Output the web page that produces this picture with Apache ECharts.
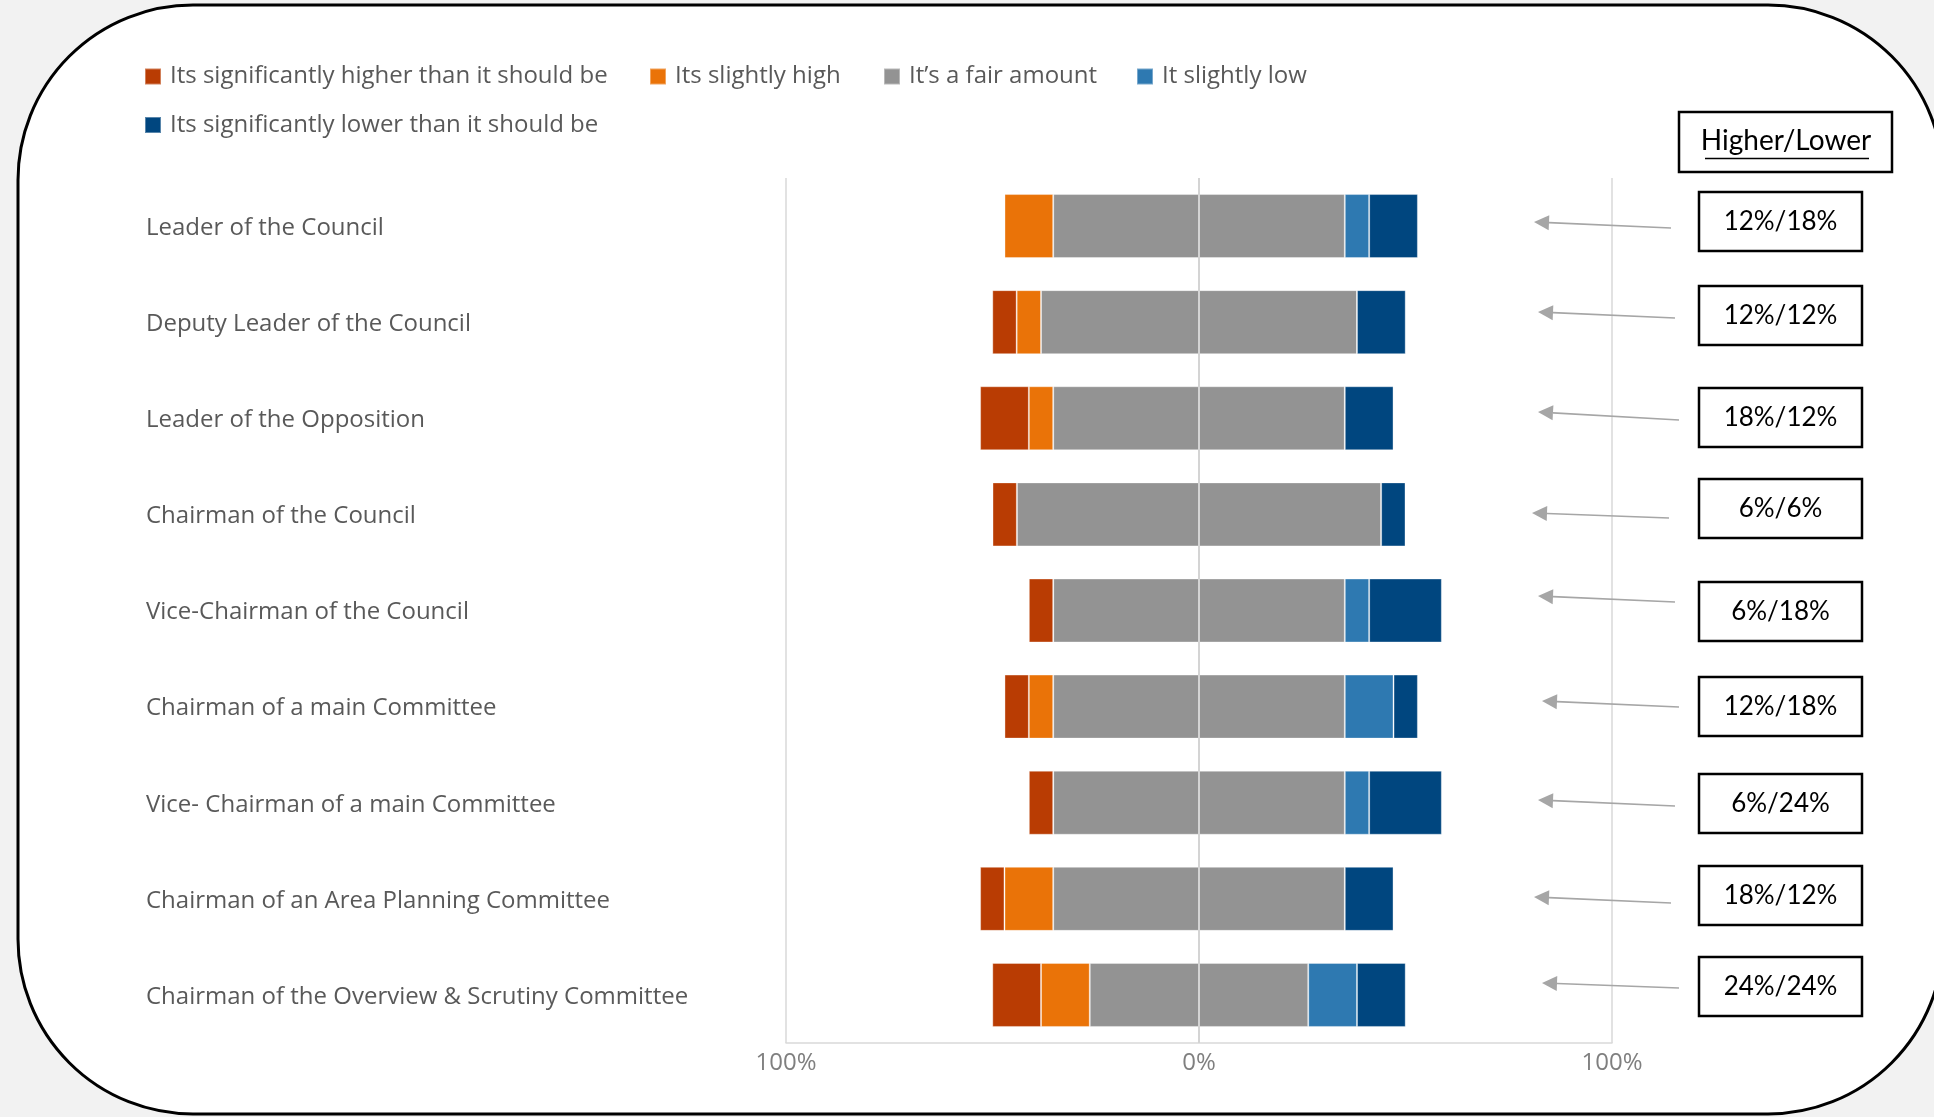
<!DOCTYPE html>
<html><head><meta charset="utf-8">
<script src="https://cdn.jsdelivr.net/npm/echarts@6/dist/echarts.min.js"></script>
<style>html,body{margin:0;padding:0;background:#f2f2f2;overflow:hidden}#c{width:1934px;height:1117px}</style>
</head><body><div id="c"></div>
<script>
// ---------- data ----------
const categories = [
  "Leader of the Council",
  "Deputy Leader of the Council",
  "Leader of the Opposition",
  "Chairman of the Council",
  "Vice-Chairman of the Council",
  "Chairman of a main Committee",
  "Vice- Chairman of a main Committee",
  "Chairman of an Area Planning Committee",
  "Chairman of the Overview & Scrutiny Committee"
];
const seriesNames = [
  "Its significantly higher than it should be",
  "Its slightly high",
  "It\u2019s a fair amount",
  "It slightly low",
  "Its significantly lower than it should be"
];
// percentages
const sigHigh    = [0,    5.9,  11.8, 5.9,  5.9,  5.9,  5.9,  5.9,  11.8];
const slightHigh = [11.8, 5.9,  5.9,  0,    0,    5.9,  0,    11.8, 11.8];
const fairAmount = [70.6, 76.5, 70.6, 88.2, 70.6, 70.6, 70.6, 70.6, 52.9];
const slightLow  = [5.9,  0,    0,    0,    5.9,  11.8, 5.9,  0,    11.8];
const sigLow     = [11.8, 11.8, 11.8, 5.9,  17.6, 5.9,  17.6, 11.8, 11.8];
const axisTicks  = [-100, 0, 100];
const boxHeader  = "Higher/Lower";
const boxLabels  = ["12%/18%","12%/12%","18%/12%","6%/6%","6%/18%","12%/18%","6%/24%","18%/12%","24%/24%"];

// ---------- styles / layout ----------
const colors = ["#B93C03", "#EA7308", "#939393", "#2E79B1", "#00467F"];
const FONT = "'Open Sans', 'Noto Sans', sans-serif";
const BOXFONT = "Lato, 'Open Sans', sans-serif";
const boxTops = [192, 286, 388, 479, 582, 677, 774, 866, 957];
const arrows = [
  [1534,222,1671,228],[1538,312,1675,318],[1538,412,1679,420],
  [1532,513,1669,518],[1538,596,1675,602],[1542,701,1679,707],
  [1538,800,1675,806],[1534,897,1671,903],[1542,983,1679,988]
];
const legendPos = [[144,63.5],[649,63.5],[883,63.5],[1136,63.5],[144,112]];

const neg = a => a.map(v => v === 0 ? 0 : -v);
const half = a => a.map(v => v / 2);

const barBase = {type:'bar', stack:'all', barWidth:64, silent:true,
  itemStyle:{borderColor:'rgba(255,255,255,0.35)', borderWidth:1}};

const series = [
  Object.assign({}, barBase, {name:seriesNames[2], data:neg(half(fairAmount)), itemStyle:Object.assign({}, barBase.itemStyle,{color:colors[2]})}),
  Object.assign({}, barBase, {name:seriesNames[1], data:neg(slightHigh), itemStyle:Object.assign({}, barBase.itemStyle,{color:colors[1]})}),
  Object.assign({}, barBase, {name:seriesNames[0], data:neg(sigHigh), itemStyle:Object.assign({}, barBase.itemStyle,{color:colors[0]})}),
  Object.assign({}, barBase, {name:seriesNames[2], data:half(fairAmount), itemStyle:Object.assign({}, barBase.itemStyle,{color:colors[2]})}),
  Object.assign({}, barBase, {name:seriesNames[3], data:slightLow, itemStyle:Object.assign({}, barBase.itemStyle,{color:colors[3]})}),
  Object.assign({}, barBase, {name:seriesNames[4], data:sigLow, itemStyle:Object.assign({}, barBase.itemStyle,{color:colors[4]}),
    markLine:{silent:true, symbol:'none', label:{show:false}, z:10,
      lineStyle:{color:'#d4d4d4', width:2, type:'solid'}, data:[{xAxis:0}]}})
];

const legends = [0,1,2,3,4].map(i => ({
  left: legendPos[i][0], top: legendPos[i][1], padding:0,
  icon:'rect', itemWidth:16, itemHeight:16, selectedMode:false,
  data:[{name:seriesNames[i], itemStyle:{color:colors[i]}}],
  textStyle:{fontFamily:FONT, fontSize:24, color:'#595959', padding:[0,0,0,4], lineHeight:26}
}));

const graphics = [];
graphics.push({type:'rect', z:-100, silent:true,
  shape:{x:18, y:5, width:1925, height:1109, r:175},
  style:{fill:'#ffffff', stroke:'#000000', lineWidth:3}});
graphics.push({type:'rect', z:50, silent:true, shape:{x:1679, y:112, width:213, height:60},
  style:{fill:'#fff', stroke:'#000', lineWidth:2.5}});
graphics.push({type:'text', z:51, silent:true, x:1786, y:141,
  style:{text:boxHeader, font:'28px ' + BOXFONT, fill:'#000', align:'center', verticalAlign:'middle'}});
graphics.push({type:'line', z:51, silent:true, shape:{x1:1705, y1:158.5, x2:1869, y2:158.5},
  style:{stroke:'#000', lineWidth:1.5}});
boxLabels.forEach((t, i) => {
  graphics.push({type:'rect', z:50, silent:true, shape:{x:1699, y:boxTops[i], width:163, height:59},
    style:{fill:'#fff', stroke:'#000', lineWidth:2.5}});
  graphics.push({type:'text', z:51, silent:true, x:1780.5, y:boxTops[i] + 29.5,
    style:{text:t, font:'26px ' + BOXFONT, fill:'#000', align:'center', verticalAlign:'middle'}});
  const a = arrows[i];
  const dx = a[2]-a[0], dy = a[3]-a[1], L = Math.hypot(dx, dy), ux = dx/L, uy = dy/L;
  const bx = a[0] + ux*15, by = a[1] + uy*15;
  graphics.push({type:'line', z:49, silent:true, shape:{x1:bx, y1:by, x2:a[2], y2:a[3]},
    style:{stroke:'#a6a6a6', lineWidth:1.6}});
  graphics.push({type:'polygon', z:49, silent:true,
    shape:{points:[[a[0],a[1]],[bx - uy*7.5, by + ux*7.5],[bx + uy*7.5, by - ux*7.5]]},
    style:{fill:'#a6a6a6'}});
});

const chart = echarts.init(document.getElementById('c'), null, {renderer:'canvas', width:1934, height:1117});
chart.setOption({
  backgroundColor:'#f2f2f2',
  animation:false,
  legend: legends,
  grid:{left:786, right:322, top:178, bottom:74, containLabel:false},
  xAxis:{type:'value', min:axisTicks[0], max:axisTicks[axisTicks.length-1], interval:axisTicks[1]-axisTicks[0],
    axisLine:{show:true, lineStyle:{color:'#d9d9d9', width:1.5}},
    axisTick:{show:false},
    splitLine:{show:true, lineStyle:{color:'#d9d9d9', width:1.5}},
    axisLabel:{formatter:v => Math.abs(v) + '%', fontFamily:FONT, fontSize:24, color:'#7f7f7f', margin:8}},
  yAxis:{type:'category', inverse:true, data:categories,
    axisLine:{show:false}, axisTick:{show:false}, splitLine:{show:false},
    axisLabel:{align:'left', margin:640, fontFamily:FONT, fontSize:24, color:'#595959',
      formatter: v => '{a|' + v + '}',
      rich:{a:{fontFamily:FONT, fontSize:24, color:'#595959', padding:[4,0,0,0]}}}},
  graphic: graphics,
  series: series
});
</script></body></html>
